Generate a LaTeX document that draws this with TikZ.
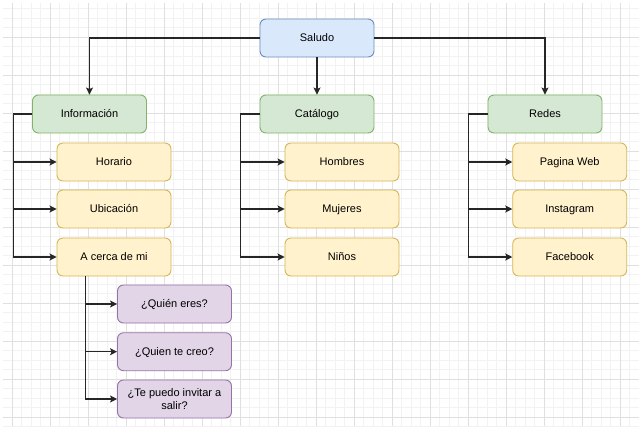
\documentclass[tikz,border=0pt]{standalone}
\usepackage{fontspec}
\setmainfont{Liberation Sans}
\usetikzlibrary{arrows.meta}
\definecolor{bfill}{HTML}{DAE8FC}\definecolor{bline}{HTML}{6C8EBF}
\definecolor{gfill}{HTML}{D5E8D4}\definecolor{gline}{HTML}{82B366}
\definecolor{yfill}{HTML}{FFF2CC}\definecolor{yline}{HTML}{D6B656}
\definecolor{pfill}{HTML}{E1D5E7}\definecolor{pline}{HTML}{9673A6}
\definecolor{gridminor}{HTML}{F2F2F2}\definecolor{gridmajor}{HTML}{E0E0E0}
\begin{document}
\begin{tikzpicture}[x=1pt,y=-1pt,
  box/.style={draw, rounded corners=6pt, minimum width=114pt, minimum height=38pt,
    font=\fontsize{11}{13.5}\selectfont, line width=0.9pt, inner sep=2pt, align=center, text=black},
  oneline/.style={text height=8.6pt, text depth=1.8pt},
  blue/.style={box, oneline, fill=bfill, draw=bline},
  green/.style={box, oneline, fill=gfill, draw=gline},
  yellow/.style={box, oneline, fill=yfill, draw=yline},
  purple/.style={box, fill=pfill, draw=pline},
  conn/.style={draw=black!85, line width=1.1pt},
  arr/.style={conn, -{Stealth[length=7pt,width=7pt,inset=1.5pt]}}]
\useasboundingbox (0,0) rectangle (639,426);
\fill[white] (0,0) rectangle (639,426);
% grid
\begin{scope}
\clip (3,3) rectangle (639,426);
\foreach \i in {0,...,67}{
  \draw[gridminor, line width=0.8pt] ({2.8+9.5*\i},0) -- ({2.8+9.5*\i},426);}
\foreach \j in {0,...,45}{
  \draw[gridminor, line width=0.8pt] (0,{-1+9.5*\j}) -- (639,{-1+9.5*\j});}
\foreach \i in {0,...,16}{
  \draw[gridmajor, line width=0.8pt] ({12.3+38*\i},0) -- ({12.3+38*\i},426);}
\foreach \j in {0,...,11}{
  \draw[gridmajor, line width=0.8pt] (0,{-1+38*\j}) -- (639,{-1+38*\j});}
\end{scope}
% nodes
\node[blue] (sal) at (317,38) {Saludo};
\node[green] (info) at (89.5,114) {Información};
\node[green] (cat) at (317,114) {Catálogo};
\node[green] (red) at (545,114) {Redes};
\node[yellow] (hor) at (114,162) {Horario};
\node[yellow] (ubi) at (114,209) {Ubicación};
\node[yellow] (ace) at (114,257) {A cerca de mi};
\node[yellow] (hom) at (342,162) {Hombres};
\node[yellow] (muj) at (342,209) {Mujeres};
\node[yellow] (nin) at (342,257) {Niños};
\node[yellow] (web) at (569.7,162) {Pagina Web};
\node[yellow] (ins) at (569.7,209) {Instagram};
\node[yellow] (fac) at (569.7,257) {Facebook};
\node[purple, oneline] (q1) at (174.5,304) {¿Quién eres?};
\node[purple, oneline] (q2) at (174.5,351.7) {¿Quien te creo?};
\node[purple] (q3) at (174.5,399) {¿Te puedo invitar a\\salir?};
% connectors
\draw[arr] (sal.west) -| (info.north);
\draw[arr] (sal.south) -- (cat.north);
\draw[arr] (sal.east) -| (red.north);
\coordinate (iT) at ([xshift=-19pt]info.west);
\coordinate (cT) at ([xshift=-19.3pt]cat.west);
\coordinate (rT) at ([xshift=-19pt]red.west);
\coordinate (aT) at ([xshift=-28.3pt]ace.south);
\foreach \c in {hor,ubi,ace}{\draw[arr] (info.west) -- (iT) |- (\c.west);}
\foreach \c in {hom,muj,nin}{\draw[arr] (cat.west) -- (cT) |- (\c.west);}
\foreach \c in {web,ins,fac}{\draw[arr] (red.west) -- (rT) |- (\c.west);}
\foreach \c in {q1,q2,q3}{\draw[arr] (aT) |- (\c.west);}
\end{tikzpicture}
\end{document}
